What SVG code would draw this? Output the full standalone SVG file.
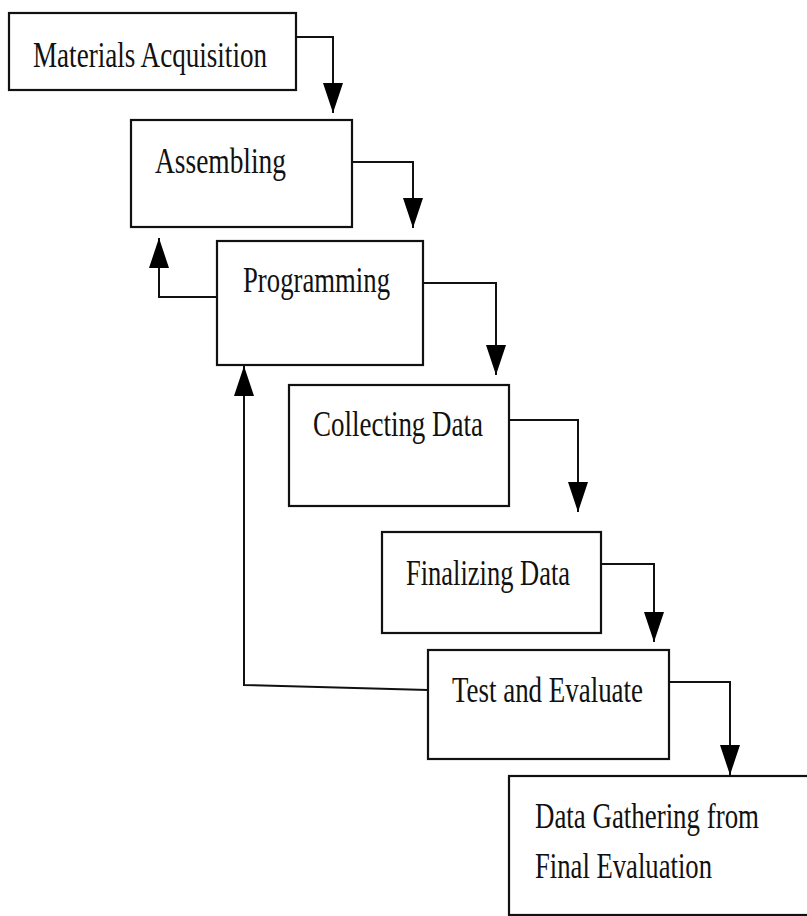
<svg xmlns="http://www.w3.org/2000/svg" width="807" height="916" viewBox="0 0 807 916">
<style>
.box{fill:#fff;stroke:#111;stroke-width:2.2}
.lbl{font-family:"Liberation Serif","Times New Roman",serif;font-size:36px;fill:#111}
.con{fill:none;stroke:#111;stroke-width:2}
</style>
<defs>
<marker id="ah" markerUnits="userSpaceOnUse" markerWidth="30" markerHeight="20" viewBox="0 0 30 20" refX="30" refY="10" orient="auto">
<path d="M0,0 L30,10 L0,20 z" fill="#000"/>
</marker>
</defs>
<rect width="807" height="916" fill="#fff"/>
<g id="connectors">
<path class="con" d="M296,37 H333 V113" marker-end="url(#ah)"/>
<path class="con" d="M352,162 H413 V228" marker-end="url(#ah)"/>
<path class="con" d="M423,283 H496 V375" marker-end="url(#ah)"/>
<path class="con" d="M509,420 H578 V512" marker-end="url(#ah)"/>
<path class="con" d="M601,564 H654 V642" marker-end="url(#ah)"/>
<path class="con" d="M669,682 H730 V775" marker-end="url(#ah)"/>
<path class="con" d="M217,297 H159 V238" marker-end="url(#ah)"/>
<path class="con" d="M428,690 L244,685 V366" marker-end="url(#ah)"/>
</g>
<g id="materials">
<rect class="box" x="9" y="13" width="287" height="77"/>
<text class="lbl" x="33" y="67" textLength="234" lengthAdjust="spacingAndGlyphs">Materials Acquisition</text>
</g>
<g id="assembling">
<rect class="box" x="131" y="120" width="221" height="107"/>
<text class="lbl" x="155" y="173" textLength="131" lengthAdjust="spacingAndGlyphs">Assembling</text>
</g>
<g id="programming">
<rect class="box" x="217" y="241" width="206" height="124"/>
<text class="lbl" x="243" y="292" textLength="147" lengthAdjust="spacingAndGlyphs">Programming</text>
</g>
<g id="collecting">
<rect class="box" x="289" y="385" width="220" height="121"/>
<text class="lbl" x="313" y="436" textLength="170" lengthAdjust="spacingAndGlyphs">Collecting Data</text>
</g>
<g id="finalizing">
<rect class="box" x="382" y="532" width="219" height="101"/>
<text class="lbl" x="406" y="585" textLength="164" lengthAdjust="spacingAndGlyphs">Finalizing Data</text>
</g>
<g id="test">
<rect class="box" x="428" y="650" width="241" height="109"/>
<text class="lbl" x="452" y="702" textLength="191" lengthAdjust="spacingAndGlyphs">Test and Evaluate</text>
</g>
<g id="gathering">
<rect class="box" x="509" y="776" width="310" height="139"/>
<text class="lbl" x="535" y="828" textLength="224" lengthAdjust="spacingAndGlyphs">Data Gathering from</text>
<text class="lbl" x="535" y="878" textLength="177" lengthAdjust="spacingAndGlyphs">Final Evaluation</text>
</g>
</svg>
